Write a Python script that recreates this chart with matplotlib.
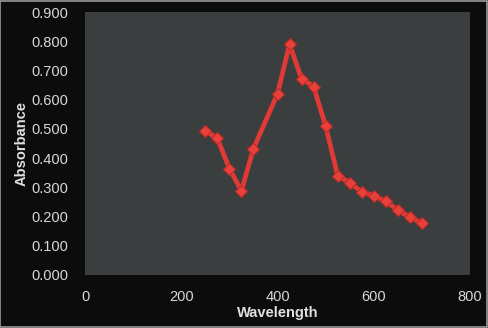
import matplotlib
matplotlib.use("Agg")
import matplotlib.pyplot as plt
from matplotlib.patches import Rectangle

wavelength = [250, 275, 300, 325, 350, 400, 425, 450, 475, 500, 525, 550, 575, 600, 625, 650, 675, 700]
absorbance = [0.493, 0.468, 0.364, 0.288, 0.432, 0.620, 0.790, 0.672, 0.645, 0.510, 0.340, 0.316, 0.284, 0.272, 0.252, 0.222, 0.198, 0.178]
yticks = [0.0, 0.1, 0.2, 0.3, 0.4, 0.5, 0.6, 0.7, 0.8, 0.9]
xticks = [0, 200, 400, 600, 800]

plt.rcParams['font.family'] = ['Liberation Sans', 'DejaVu Sans']
fig = plt.figure(figsize=(4.88, 3.28), dpi=100, facecolor='#0c0c0c')
ax = fig.add_axes([85/488, 1-275/328, (470-85)/488, (275-12)/328])
ax.set_facecolor('#3b3e3f')

ax.plot(wavelength, absorbance, color='#e03a36', lw=3.4, marker='D', ms=6.5,
        mfc='#e8403a', mec='#c02a26', mew=0.8, solid_capstyle='round', zorder=3)

ax.set_xlim(0, 800)
ax.set_ylim(0, 0.9)
ax.set_xticks(xticks)
ax.set_yticks(yticks)
ax.set_yticklabels([f"{v:.3f}" for v in yticks])
ax.tick_params(length=0, colors='#d8d8d8', labelsize=10.5)
ax.tick_params(axis='x', pad=11)
ax.tick_params(axis='y', pad=12)
for s in ax.spines.values():
    s.set_visible(False)
ax.set_xlabel('Wavelength', color='#e0e0e0', fontsize=10.5, fontweight='bold', labelpad=1)
ax.set_ylabel('Absorbance', color='#e0e0e0', fontsize=10.5, fontweight='bold', labelpad=2)

fig.patches.append(Rectangle((0.001, 0.002), 0.997, 0.995, transform=fig.transFigure,
                             fill=False, ec='#9a9a9a', lw=1.2))
fig.savefig('out.png', dpi=100, facecolor=fig.get_facecolor())
